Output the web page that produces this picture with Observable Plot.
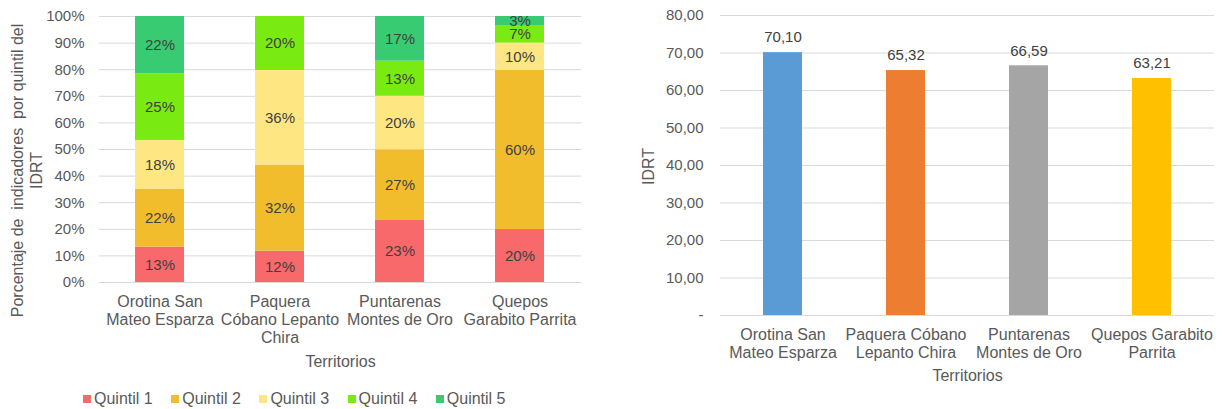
<!DOCTYPE html>
<html>
<head>
<meta charset="utf-8">
<script src="https://cdn.jsdelivr.net/npm/d3@7"></script>
<script src="https://cdn.jsdelivr.net/npm/@observablehq/plot@0.6"></script>
<style>
  html, body { margin: 0; padding: 0; background: #ffffff; }
  #wrap { position: relative; width: 1222px; height: 409px; overflow: hidden; font-family: "Liberation Sans", Arial, sans-serif; }
  #left, #right, #legend { position: absolute; top: 0; }
  #left { left: 0; }
  #right { left: 612px; }
  #legend { left: 83px; top: 390px; }
  div.lg-swatches-wrap { min-height: 0 !important; margin: 0 !important; }
  div.lg-swatches { margin: 0 !important; font-size: 16px !important; color: #595959 !important; font-family: "Liberation Sans", Arial, sans-serif !important; }
  div.lg-swatches .lg-swatch { margin-right: 18.5px !important; }
  div.lg-swatches .lg-swatch > svg { margin-right: 3px !important; }
</style>
</head>
<body>
<div id="wrap">
  <div id="left"></div>
  <div id="right"></div>
  <div id="legend"></div>
</div>
<script>
// ---------- Data ----------
const territories = [
  "Orotina San Mateo Esparza",
  "Paquera Cóbano Lepanto Chira",
  "Puntarenas Montes de Oro",
  "Quepos Garabito Parrita"
];
const leftTickLabels = [
  "Orotina San\nMateo Esparza",
  "Paquera\nCóbano Lepanto\nChira",
  "Puntarenas\nMontes de Oro",
  "Quepos\nGarabito Parrita"
];
const rightTickLabels = [
  "Orotina San\nMateo Esparza",
  "Paquera Cóbano\nLepanto Chira",
  "Puntarenas\nMontes de Oro",
  "Quepos Garabito\nParrita"
];
const quintiles = ["Quintil 1", "Quintil 2", "Quintil 3", "Quintil 4", "Quintil 5"];
const quintil1 = [13.3, 11.8, 23.3, 19.9];
const quintil2 = [21.7, 32.2, 26.6, 59.8];
const quintil3 = [18.4, 35.7, 20.1, 10.3];
const quintil4 = [25.1, 20.3, 13.2, 6.6];
const quintil5 = [21.5, 0, 16.8, 3.4];
const quintilColors = ["#f8696b", "#f2bd2d", "#fee783", "#7aeb12", "#38cb71"];
const pctTicks = [0, 10, 20, 30, 40, 50, 60, 70, 80, 90, 100];

const idrt = [70.10, 65.32, 66.59, 63.21];
const idrtColors = ["#5b9bd5", "#ed7d31", "#a5a5a5", "#ffc000"];
const idrtTicks = [0, 10, 20, 30, 40, 50, 60, 70, 80];

const yTitleLeft = "Porcentaje de\u00a0 indicadores\u00a0 por quintil del\nIDRT";
const yTitleRight = "IDRT";
const xTitle = "Territorios";

// ---------- Build tables ----------
const series = [quintil1, quintil2, quintil3, quintil4, quintil5];
const table = [];
territories.forEach((t, i) => {
  quintiles.forEach((q, j) => {
    table.push({territorio: t, quintil: q, value: series[j][i]});
  });
});
const idrtTable = territories.map((t, i) => ({territorio: t, value: idrt[i]}));

const FONT = "'Liberation Sans', Arial, sans-serif";
const GRID = "#d9d9d9";

// ---------- Left chart ----------
const left = Plot.plot({
  width: 612, height: 409,
  marginLeft: 99, marginRight: 31, marginTop: 16, marginBottom: 127,
  style: {fontFamily: FONT, fontSize: "15px", color: "#595959", background: "transparent"},
  x: {domain: territories, paddingInner: 0.59, paddingOuter: 0.295, label: null},
  y: {domain: [0, 100], label: null},
  color: {domain: quintiles, range: quintilColors},
  marks: [
    Plot.gridY(pctTicks, {stroke: GRID, strokeOpacity: 1, strokeWidth: 1}),
    Plot.axisY(pctTicks, {tickSize: 0, tickPadding: 15, fontSize: 15, tickFormat: d => d + "%", label: null}),
    Plot.axisX({tickSize: 0, tickPadding: 11, fontSize: 16, lineHeight: 1.15,
      tickFormat: d => leftTickLabels[territories.indexOf(d)], label: null}),
    Plot.barY(table, {x: "territorio", y: "value", fill: "quintil", z: "quintil"}),
    Plot.text(table.filter(d => d.value > 0), Plot.stackY({
      x: "territorio", y: "value", z: "quintil",
      text: d => Math.round(d.value) + "%", fill: "#404040", fontSize: 15
    })),
    Plot.text([xTitle], {text: d => d, frameAnchor: "bottom", lineAnchor: "middle", dy: 79.7,
      fontSize: 16, fill: "#595959"}),
    Plot.text([yTitleLeft], {text: d => d, frameAnchor: "left", textAnchor: "middle", lineAnchor: "middle",
      rotate: -90, dx: -73.5, dy: 21, lineHeight: 1.2, fontSize: 16, fill: "#595959"})
  ]
});
document.getElementById("left").appendChild(left);

// ---------- Legend ----------
const legend = Plot.legend({
  legend: "swatches",
  color: {domain: quintiles, range: quintilColors},
  swatchSize: 8,
  className: "lg",
  style: {fontSize: "16px", fontFamily: FONT, color: "#595959"}
});
document.getElementById("legend").appendChild(legend);

// ---------- Right chart ----------
const fmt = d => d.toFixed(2).replace(".", ",");
const right = Plot.plot({
  width: 610, height: 409,
  marginLeft: 108, marginRight: 8, marginTop: 15, marginBottom: 94,
  style: {fontFamily: FONT, fontSize: "15px", color: "#595959", background: "transparent"},
  x: {domain: territories, paddingInner: 0.68, paddingOuter: 0.34, label: null},
  y: {domain: [0, 80], label: null},
  color: {domain: territories, range: idrtColors},
  marks: [
    Plot.gridY(idrtTicks, {stroke: GRID, strokeOpacity: 1, strokeWidth: 1}),
    Plot.axisY(idrtTicks, {tickSize: 0, tickPadding: 17, fontSize: 15,
      tickFormat: d => d === 0 ? "-" : fmt(d), label: null}),
    Plot.axisX({tickSize: 0, tickPadding: 11, fontSize: 16, lineHeight: 1.15,
      tickFormat: d => rightTickLabels[territories.indexOf(d)], label: null}),
    Plot.barY(idrtTable, {x: "territorio", y: "value", fill: "territorio"}),
    Plot.text(idrtTable, {x: "territorio", y: "value", text: d => fmt(d.value), dy: -15,
      fill: "#404040", fontSize: 15}),
    Plot.text([xTitle], {text: d => d, frameAnchor: "bottom", lineAnchor: "middle", dy: 60.7,
      fontSize: 16, fill: "#595959"}),
    Plot.text([yTitleRight], {text: d => d, frameAnchor: "left", textAnchor: "middle", lineAnchor: "middle",
      rotate: -90, dx: -72, dy: 1, fontSize: 16, fill: "#595959"})
  ]
});
document.getElementById("right").appendChild(right);
</script>
</body>
</html>
